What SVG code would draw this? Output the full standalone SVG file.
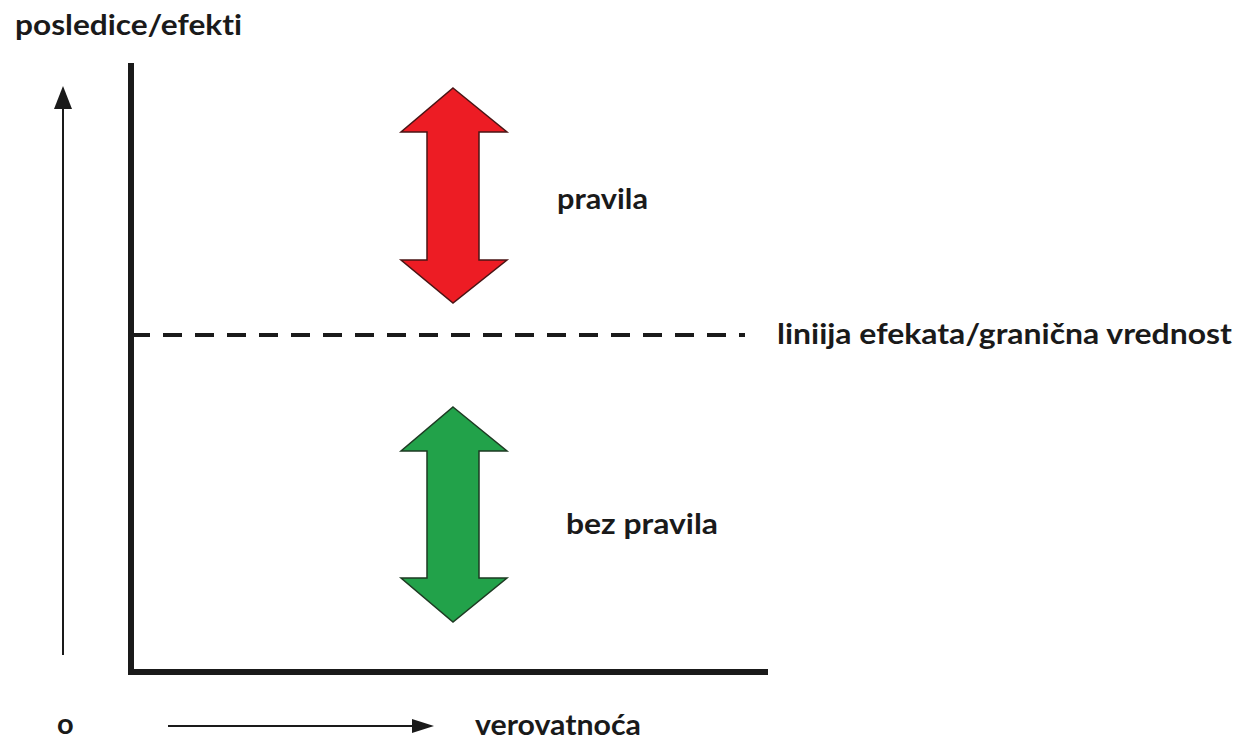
<svg xmlns="http://www.w3.org/2000/svg" width="1236" height="741" viewBox="0 0 1236 741">
<style>
.t{font-family:Lato,"Open Sans","Liberation Sans",sans-serif;font-weight:bold;font-size:29px;fill:#1a1a1a;font-variant-ligatures:none;font-feature-settings:"liga" 0,"dlig" 0}
.axis{stroke:#1a1a1a;stroke-width:6;fill:none}
.thin{stroke:#1a1a1a;stroke-width:2;fill:none}
.head{fill:#1a1a1a}
.dash{stroke:#1a1a1a;stroke-width:4;stroke-dasharray:19 13;fill:none}
.red{fill:#ED1C24;stroke:#4a1414;stroke-width:1.5;stroke-linejoin:miter}
.green{fill:#22A24A;stroke:#1d3a22;stroke-width:1.5;stroke-linejoin:miter}
</style>
<rect width="1236" height="741" fill="#ffffff"/>
<g id="connectors">
  <path class="axis" d="M131,63 V672 H768"/>
  <path class="dash" d="M131,335 H745"/>
  <path class="thin" d="M63,655 V104"/>
  <polygon class="head" points="63,86 54,109 72,109"/>
  <path class="thin" d="M168,726 H416"/>
  <polygon class="head" points="434,726 412,719 412,733"/>
</g>
<g id="label-y"><text class="t" x="15" y="35" textLength="227" lengthAdjust="spacingAndGlyphs">posledice/efekti</text></g>
<g id="label-origin"><text class="t" x="57" y="734">o</text></g>
<g id="label-x"><text class="t" x="475" y="735" textLength="166" lengthAdjust="spacingAndGlyphs">verovatnoća</text></g>
<g id="label-line"><text class="t" x="777" y="344" textLength="455" lengthAdjust="spacingAndGlyphs">liniija efekata/granična vrednost</text></g>
<g id="arrow-red">
  <polygon class="red" points="453,88 507,132 479,132 479,260 507,260 453,303 401,260 427,260 427,132 401,132"/>
</g>
<g id="label-pravila"><text class="t" x="557" y="209" textLength="91" lengthAdjust="spacingAndGlyphs">pravila</text></g>
<g id="arrow-green">
  <polygon class="green" points="453,407 507,451 479,451 479,578 507,578 453,622 401,578 427,578 427,451 401,451"/>
</g>
<g id="label-bez"><text class="t" x="566" y="534" textLength="152" lengthAdjust="spacingAndGlyphs">bez pravila</text></g>
</svg>
